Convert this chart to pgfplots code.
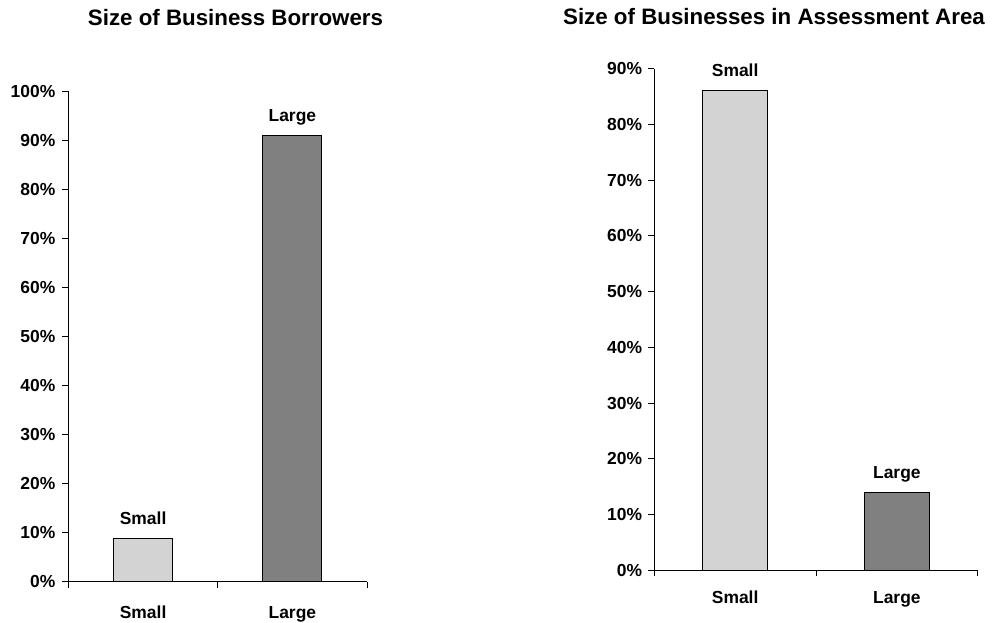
\documentclass[border=0pt]{standalone}
\usepackage{pgfplots}
\pgfplotsset{compat=1.18}
\usepackage{fontspec}
\setmainfont{Liberation Sans}
\definecolor{smallc}{RGB}{211,211,211}
\definecolor{largec}{RGB}{128,128,128}
\pgfplotsset{
  mybars/.style={
    scale only axis, clip=false,
    axis x line*=bottom, axis y line*=left,
    axis line style={-, black, line width=1bp},
    /pgf/number format/assume math mode=true,
    tick label style={font=\bfseries\fontsize{17.5}{18}\selectfont},
    xmin=-0.5, xmax=1.5, ymin=0,
    xtick={-0.5,0.5,1.5}, xticklabels={},
    extra x ticks={0,1}, extra x tick labels={Small,Large},
    extra x tick style={major tick length=0pt,
      xticklabel style={anchor=base, inner sep=0pt}},
    tick align=outside, major tick length=6bp,
    tick style={black, line width=1bp},
    yticklabel={\pgfmathprintnumber{\tick}\%},
    yticklabel style={anchor=east, inner sep=0pt},
    nodes near coords style={anchor=base, inner sep=0pt, yshift=14bp,
      font=\bfseries\fontsize{17.5}{18}\selectfont},
  },
}
\begin{document}
\begin{tikzpicture}
\path[use as bounding box] (0,0) rectangle (993bp,623bp);
\node[font=\bfseries\fontsize{22.4}{24}\selectfont, anchor=base] at (235.5bp,597bp) {Size of Business Borrowers};
\node[font=\bfseries\fontsize{22.4}{24}\selectfont, anchor=base] at (774bp,598bp) {Size of Businesses in Assessment Area};
\begin{axis}[mybars,
  at={(68.5bp,41.3bp)}, anchor=south west,
  width=298.5bp, height=489.7bp,
  ymax=100, ytick={0,10,...,100},
  yticklabel style={xshift=-7bp},
  extra x tick style={xticklabel style={yshift=-37bp}},
]
\addplot[ybar, bar width=0.395, bar shift=0pt, fill=smallc, draw=black, line width=1bp,
  nodes near coords={Small}] coordinates {(0,8.8)};
\addplot[ybar, bar width=0.395, bar shift=0pt, fill=largec, draw=black, line width=1bp,
  nodes near coords={Large}] coordinates {(1,91.1)};
\end{axis}
\begin{axis}[mybars,
  at={(654.3bp,52.7bp)}, anchor=south west,
  width=323.4bp, height=501.6bp,
  ymax=90, ytick={0,10,...,90},
  yticklabel style={xshift=-6bp},
  extra x tick style={xticklabel style={yshift=-33bp}},
]
\addplot[ybar, bar width=0.4, bar shift=0pt, fill=smallc, draw=black, line width=1bp,
  nodes near coords={Small}] coordinates {(0,86)};
\addplot[ybar, bar width=0.4, bar shift=0pt, fill=largec, draw=black, line width=1bp,
  nodes near coords={Large}] coordinates {(1,14)};
\end{axis}
\end{tikzpicture}
\end{document}
